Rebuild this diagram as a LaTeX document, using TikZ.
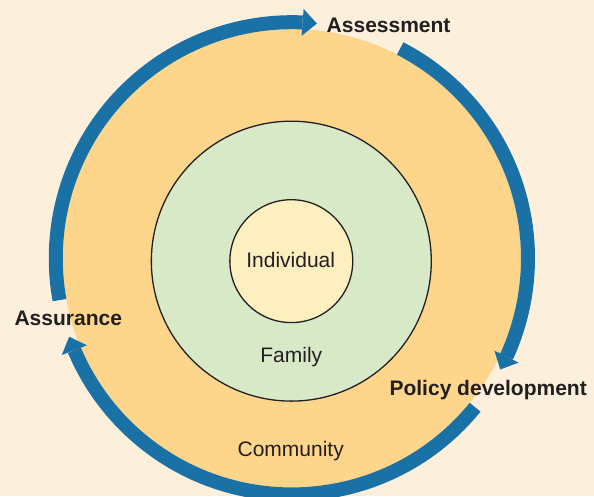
\documentclass[tikz,border=0pt]{standalone}
\usepackage{fontspec}
\setmainfont{Liberation Sans}
\usepackage{tikz}
\usetikzlibrary{positioning}
\usetikzlibrary{calc,arrows.meta,bending}

\definecolor{PageCream}{RGB}{252,240,221}
\definecolor{CommunityOrange}{RGB}{253,214,140}
\definecolor{FamilyGreen}{RGB}{216,233,200}
\definecolor{IndividualYellow}{RGB}{254,239,193}
\definecolor{CycleBlue}{RGB}{26,113,166}
\definecolor{LabelBlack}{RGB}{35,31,32}

\tikzset{
	levelcircle/.style={circle, inner sep=0pt, draw=LabelBlack, line width=0.65pt},
	cyclearc/.style={draw=CycleBlue, line width=7pt, -{Triangle[width=13.5pt, length=7.2pt, line width=0pt]}},
	stage/.style={anchor=base, inner sep=0pt, text=LabelBlack, font=\fontsize{10.5}{12.6}\selectfont\bfseries},
	level/.style={anchor=base, inner sep=0pt, text=LabelBlack, font=\fontsize{10.5}{12.6}\selectfont},
}

\begin{document}
\begin{tikzpicture}

	% Proper size --- Bounding box
	\useasboundingbox (0.00cm, 0.00cm) rectangle (10.44cm, 8.72cm);
	\path[fill=PageCream] (0.00cm, 0.00cm) rectangle (10.44cm, 8.72cm);
	
	% Centres: (R) for the blue cycle, (C) for the inner circles
	\coordinate (R) at (5.13cm, 4.18cm);
	\coordinate (C) at (5.12cm, 4.13cm);
	
	% ------------------------------------------------
	% CIRCLES
	% ------------------------------------------------
	\node[levelcircle, draw=none, fill=CommunityOrange, minimum size=8.06cm] (community) at (R) {};
	\node[levelcircle, fill=FamilyGreen, minimum size=4.92cm] (family) at (C) {};
	\node[levelcircle, fill=IndividualYellow, minimum size=2.16cm] (individual) at (C) {};
	
	% Start of each arc, in polar coordinates around (R): (angle:radius)
	\coordinate (A0) at ($(R)+(190.2:4.15cm)$);
	\coordinate (P0) at ($(R)+(62.7:4.15cm)$);
	\coordinate (S0) at ($(R)+(-39.1:4.15cm)$);
	
	% ------------------------------------------------
	% CYCLE
	% ------------------------------------------------
	\draw[cyclearc] (A0) arc[start angle=190.2, end angle=83.9, radius=4.15cm];
	\draw[cyclearc] (P0) arc[start angle=62.7, end angle=-28.1, radius=4.15cm];
	\draw[cyclearc] (S0) arc[start angle=-39.1, end angle=-160.6, radius=4.15cm];
	
	% Labels
	\node[stage] (assessment) at (6.83cm, 8.14cm) {Assessment};
	\node[stage] (policy) at (8.58cm, 1.76cm) {Policy development};
	\node[stage] (assurance) at (1.20cm, 3.00cm) {Assurance};
	
	\node[level] (individualtext) at (5.11cm, 4.01cm) {Individual};
	\node[level] (familytext) at (5.12cm, 2.35cm) {Family};
	\node[level] (communitytext) at (5.11cm, 0.69cm) {Community};
	
\end{tikzpicture}
\end{document}
